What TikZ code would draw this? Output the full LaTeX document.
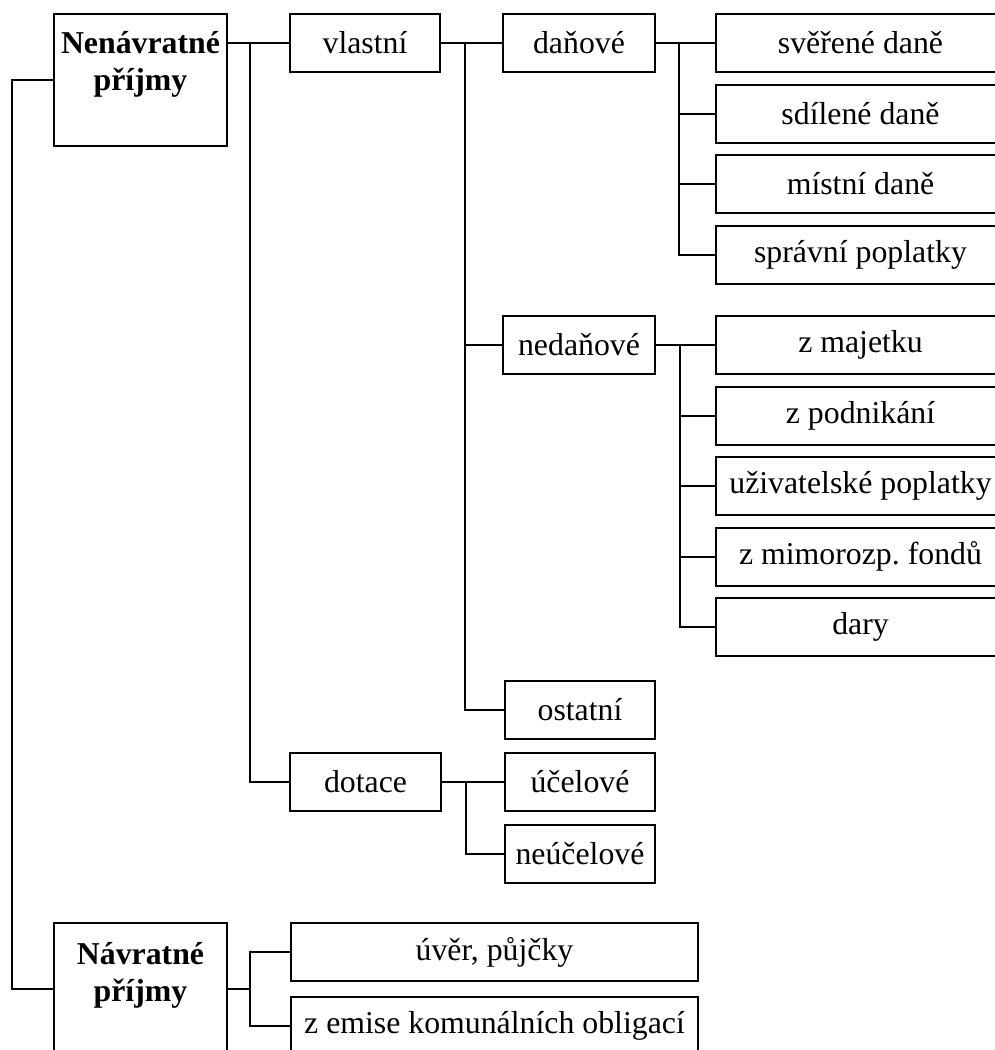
\documentclass[tikz,border=0pt]{standalone}
\usepackage{fontspec}
\setmainfont{Liberation Serif}
\tikzset{
  box/.style={draw, line width=1pt, inner sep=0pt, minimum height=29pt},
  bigbox/.style={box, minimum width=86.5pt, minimum height=66pt},
  widebox/.style={box, minimum width=144.5pt},
  conn/.style={line width=1pt},
  headtxt/.style={align=center, font=\fontsize{15.9pt}{18.5pt}\selectfont\bfseries},
}
\begin{document}
\begin{tikzpicture}[x=0.5pt, y=-0.5pt, every node/.style={font=\fontsize{15.9pt}{18.5pt}\selectfont}]
\clip (0,0) rectangle (995,1050);
\fill[white] (0,0) rectangle (995,1050);

% main groups
\node[bigbox] (nen) at (140.5,80) {};
\node[headtxt] (nentxt) at (140.5,64.5) {Nenávratné\\příjmy};
\node[bigbox] (navr) at (140.5,989) {};
\node[headtxt] (navrtxt) at (140.5,975) {Návratné\\příjmy};

% second and third level
\node[box, minimum width=75pt] (vlastni) at (365,43) {vlastní};
\node[box, minimum width=75.5pt] (dotace) at (365.5,782) {dotace};
\node[box, minimum width=76pt] (danove) at (579,43) {daňové};
\node[box, minimum width=76pt] (nedanove) at (579,345) {nedaňové};
\node[box, minimum width=75pt] (ostatni) at (580,710) {ostatní};
\node[box, minimum width=75pt] (ucelove) at (580,782) {účelové};
\node[box, minimum width=75pt] (neucelove) at (580,853.5) {neúčelové};
\node[box, minimum width=203.5pt] (uver) at (494.5,952) {úvěr, půjčky};
\node[box, minimum width=203.5pt] (emise) at (494.5,1026) {z emise komunálních obligací};

% right column
\foreach \y/\nm/\txt in {43/sverene/svěřené daně, 113.5/sdilene/sdílené daně,
    184/mistni/místní daně, 254.5/spravni/správní poplatky,
    345/majetek/z majetku, 415.5/podnikani/z podnikání,
    486/uzivatel/uživatelské poplatky, 556.5/mimorozp/z mimorozp.\ fondů,
    627/dary/dary}
  \node[widebox] (\nm) at (860.5,\y) {\txt};

% bus lines
\coordinate (b0) at (12,0);
\coordinate (b1) at (250,0);
\coordinate (b2) at (465,0);
\coordinate (b3) at (679,0);
\coordinate (b4) at (680,0);
\coordinate (b5) at (466,0);

\draw[conn] (nen.west) -| (b0 |- navr.west) -- (navr.west);

\draw[conn] (nen.east |- vlastni.west) -- (vlastni.west);
\draw[conn] (b1 |- vlastni.west) |- (dotace.west);

\draw[conn] (vlastni.east) -- (danove.west);
\draw[conn] (b2 |- vlastni.east) |- (ostatni.west);
\draw[conn] (b2 |- nedanove.west) -- (nedanove.west);

\draw[conn] (danove.east) -- (sverene.west);
\draw[conn] (b3 |- danove.east) |- (spravni.west);
\foreach \nm in {sdilene, mistni}
  \draw[conn] (b3 |- \nm.west) -- (\nm.west);

\draw[conn] (nedanove.east) -- (majetek.west);
\draw[conn] (b4 |- nedanove.east) |- (dary.west);
\foreach \nm in {podnikani, uzivatel, mimorozp}
  \draw[conn] (b4 |- \nm.west) -- (\nm.west);

\draw[conn] (dotace.east) -- (ucelove.west);
\draw[conn] (b5 |- dotace.east) |- (neucelove.west);

\draw[conn] (navr.east) -- (b1 |- navr.east);
\draw[conn] (uver.west) -| (b1 |- emise.west) -- (emise.west);

\end{tikzpicture}
\end{document}
